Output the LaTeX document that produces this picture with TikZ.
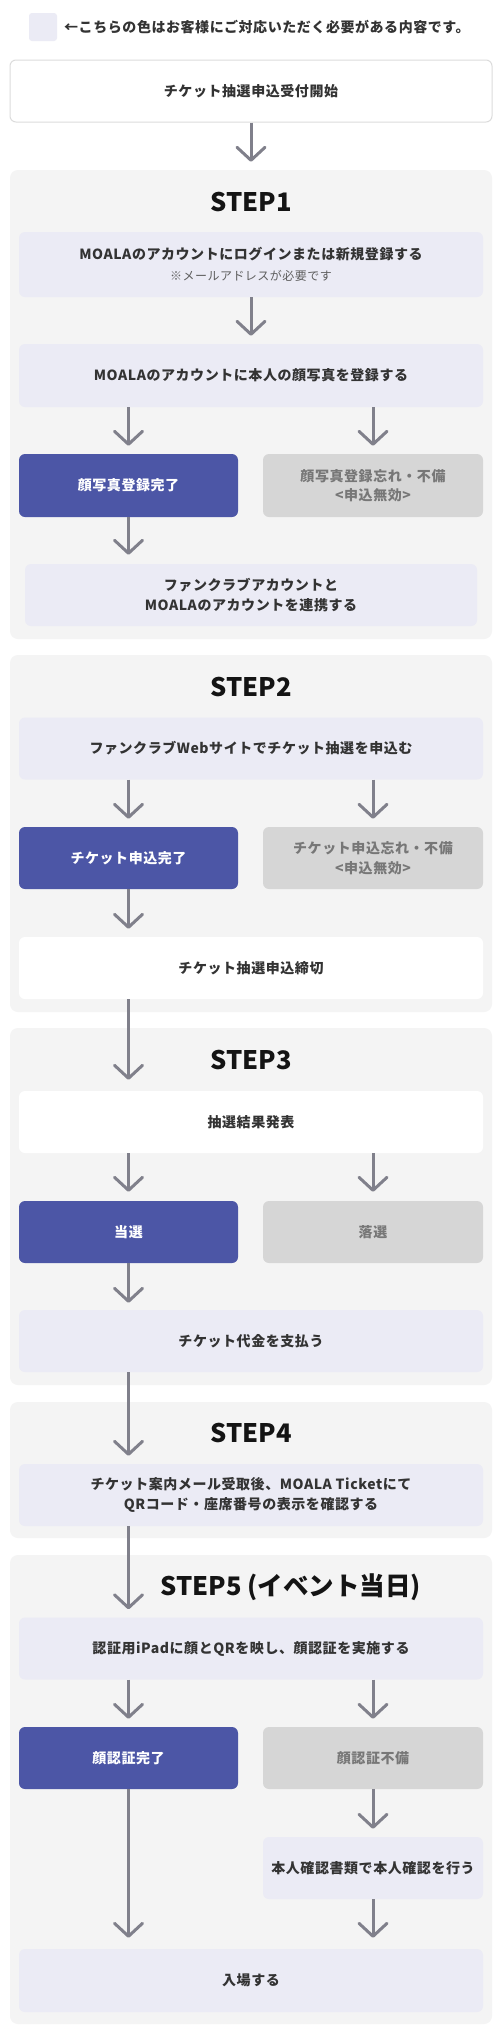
\documentclass[tikz,border=0pt]{standalone}
\usepackage{fontspec}
\setmainfont{Noto Sans CJK JP}
\newfontfamily\jpb[LetterSpace=4]{Noto Sans CJK JP}
\usetikzlibrary{arrows.meta}
\definecolor{panelbg}{HTML}{F4F4F4}
\definecolor{lav}{HTML}{EBEBF5}
\definecolor{blueb}{HTML}{4C56A6}
\definecolor{grayb}{HTML}{D6D6D6}
\definecolor{graytx}{HTML}{777777}
\definecolor{notetx}{HTML}{5E5E5E}
\definecolor{arrc}{HTML}{80808B}
\definecolor{txt}{HTML}{333333}
\definecolor{startborder}{HTML}{DCDCDC}
\tikzset{
  box/.style={rounded corners=6pt, minimum height=62pt, inner sep=0pt, align=center,
    font=\jpb\bfseries\fontsize{14}{19.5}\selectfont, text=txt},
  lavbox/.style={box, fill=lav},
  whitebox/.style={box, fill=white},
  bluebox/.style={box, fill=blueb, text=white},
  graybox/.style={box, fill=grayb, text=graytx},
  fullw/.style={minimum width=464pt},
  halfw/.style={minimum width=220pt},
  panel/.style={fill=panelbg, rounded corners=8pt, inner sep=0pt, minimum width=482pt},
  steptitle/.style={font=\bfseries\fontsize{25.5}{30}\selectfont, text=black!92, inner sep=0pt},
  arr/.style={draw=arrc, line width=3pt, -{Straight Barb[length=13pt,width=28pt,round]}},
}
\begin{document}
\begin{tikzpicture}[x=1pt,y=-1pt]
\useasboundingbox[fill=white] (0,0) rectangle (502,2037);

% legend
\node[fill=lav, rounded corners=3pt, minimum width=28pt, minimum height=28pt, inner sep=0pt] (legsq) at (43,27) {};
\node[anchor=west, inner sep=0pt, text=txt, font=\jpb\bfseries\fontsize{14}{16}\selectfont] (legtx) at (64,27) {←こちらの色はお客様にご対応いただく必要がある内容です。};

% start
\node[whitebox, draw=startborder, line width=1pt, minimum width=482pt] (start) at (251,91) {チケット抽選申込受付開始};

% panels
\node[panel, minimum height=469pt] (p1) at (251,404.5) {};
\node[panel, minimum height=357pt] (p2) at (251,833.5) {};
\node[panel, minimum height=357pt] (p3) at (251,1206.5) {};
\node[panel, minimum height=136pt] (p4) at (251,1470) {};
\node[panel, minimum height=469pt] (p5) at (251,1789.5) {};

% STEP1
\node[steptitle] (t1) at (251,202) {STEP1};
\node[lavbox, fullw, minimum height=65pt] (s1a) at (251,264.5) {MOALAのアカウントにログインまたは新規登録する\\[2pt]{\mdseries\fontsize{12}{14}\selectfont\color{notetx}※メールアドレスが必要です}};
\node[lavbox, fullw, minimum height=63pt] (s1b) at (251,375.5) {MOALAのアカウントに本人の顔写真を登録する};
\node[bluebox, minimum width=219pt, minimum height=63pt] (s1c) at (128.5,485.5) {顔写真登録完了};
\node[graybox, halfw, minimum height=63pt] (s1d) at (373,485.5) {顔写真登録忘れ・不備\\<申込無効>};
\node[lavbox, minimum width=452pt] (s1e) at (251,595) {ファンクラブアカウントと\\MOALAのアカウントを連携する};

% STEP2
\node[steptitle] (t2) at (251,687) {STEP2};
\node[lavbox, fullw] (s2a) at (251,748.5) {ファンクラブWebサイトでチケット抽選を申込む};
\node[bluebox, minimum width=219pt] (s2b) at (128.5,858) {チケット申込完了};
\node[graybox, halfw] (s2c) at (373,858) {チケット申込忘れ・不備\\<申込無効>};
\node[whitebox, fullw] (s2d) at (251,968) {チケット抽選申込締切};

% STEP3
\node[steptitle] (t3) at (251,1060) {STEP3};
\node[whitebox, fullw] (s3a) at (251,1122) {抽選結果発表};
\node[bluebox, minimum width=219pt] (s3b) at (128.5,1232) {当選};
\node[graybox, halfw] (s3c) at (373,1232) {落選};
\node[lavbox, fullw] (s3d) at (251,1341) {チケット代金を支払う};

% STEP4
\node[steptitle] (t4) at (251,1433) {STEP4};
\node[lavbox, fullw] (s4a) at (251,1495) {チケット案内メール受取後、MOALA Ticketにて\\QRコード・座席番号の表示を確認する};

% STEP5
\node[steptitle] (t5) at (291,1587) {STEP5 (イベント当日)};
\node[lavbox, fullw] (s5a) at (251,1648.5) {認証用iPadに顔とQRを映し、顔認証を実施する};
\node[bluebox, minimum width=219pt] (s5b) at (128.5,1758) {顔認証完了};
\node[graybox, halfw] (s5c) at (373,1758) {顔認証不備};
\node[lavbox, halfw] (s5d) at (373,1868) {本人確認書類で本人確認を行う};
\node[lavbox, fullw, minimum height=63pt] (s5e) at (251,1980.5) {入場する};

% arrows
\draw[arr] (start.south) -- ([yshift=8pt]p1.north);
\draw[arr] (s1a.south) -- ([yshift=8pt]s1b.north);
\draw[arr] (s1b.south -| s1c.north) -- ([yshift=8pt]s1c.north);
\draw[arr] (s1b.south -| s1d.north) -- ([yshift=8pt]s1d.north);
\draw[arr] (s1c.south) -- ([yshift=9pt]s1e.north -| s1c.north);

\draw[arr] (s2a.south -| s2b.north) -- ([yshift=8pt]s2b.north);
\draw[arr] (s2a.south -| s2c.north) -- ([yshift=8pt]s2c.north);
\draw[arr] (s2b.south) -- ([yshift=8pt]s2d.north -| s2b.north);
\draw[arr] (s2d.south -| s2b.north) -- ([yshift=11pt]s3a.north -| s2b.north);

\draw[arr] (s3a.south -| s3b.north) -- ([yshift=9pt]s3b.north);
\draw[arr] (s3a.south -| s3c.north) -- ([yshift=9pt]s3c.north);
\draw[arr] (s3b.south) -- ([yshift=7pt]s3d.north -| s3b.north);
\draw[arr] (s3d.south -| s3b.north) -- ([yshift=8pt]s4a.north -| s3b.north);

\draw[arr] (s4a.south -| s3b.north) -- ([yshift=8pt]s5a.north -| s3b.north);

\draw[arr] (s5a.south -| s5b.north) -- ([yshift=8pt]s5b.north);
\draw[arr] (s5a.south -| s5c.north) -- ([yshift=8pt]s5c.north);
\draw[arr] (s5b.south) -- ([yshift=11pt]s5e.north -| s5b.north);
\draw[arr] (s5c.south) -- ([yshift=8pt]s5d.north);
\draw[arr] (s5d.south) -- ([yshift=11pt]s5e.north -| s5d.north);
\end{tikzpicture}
\end{document}
